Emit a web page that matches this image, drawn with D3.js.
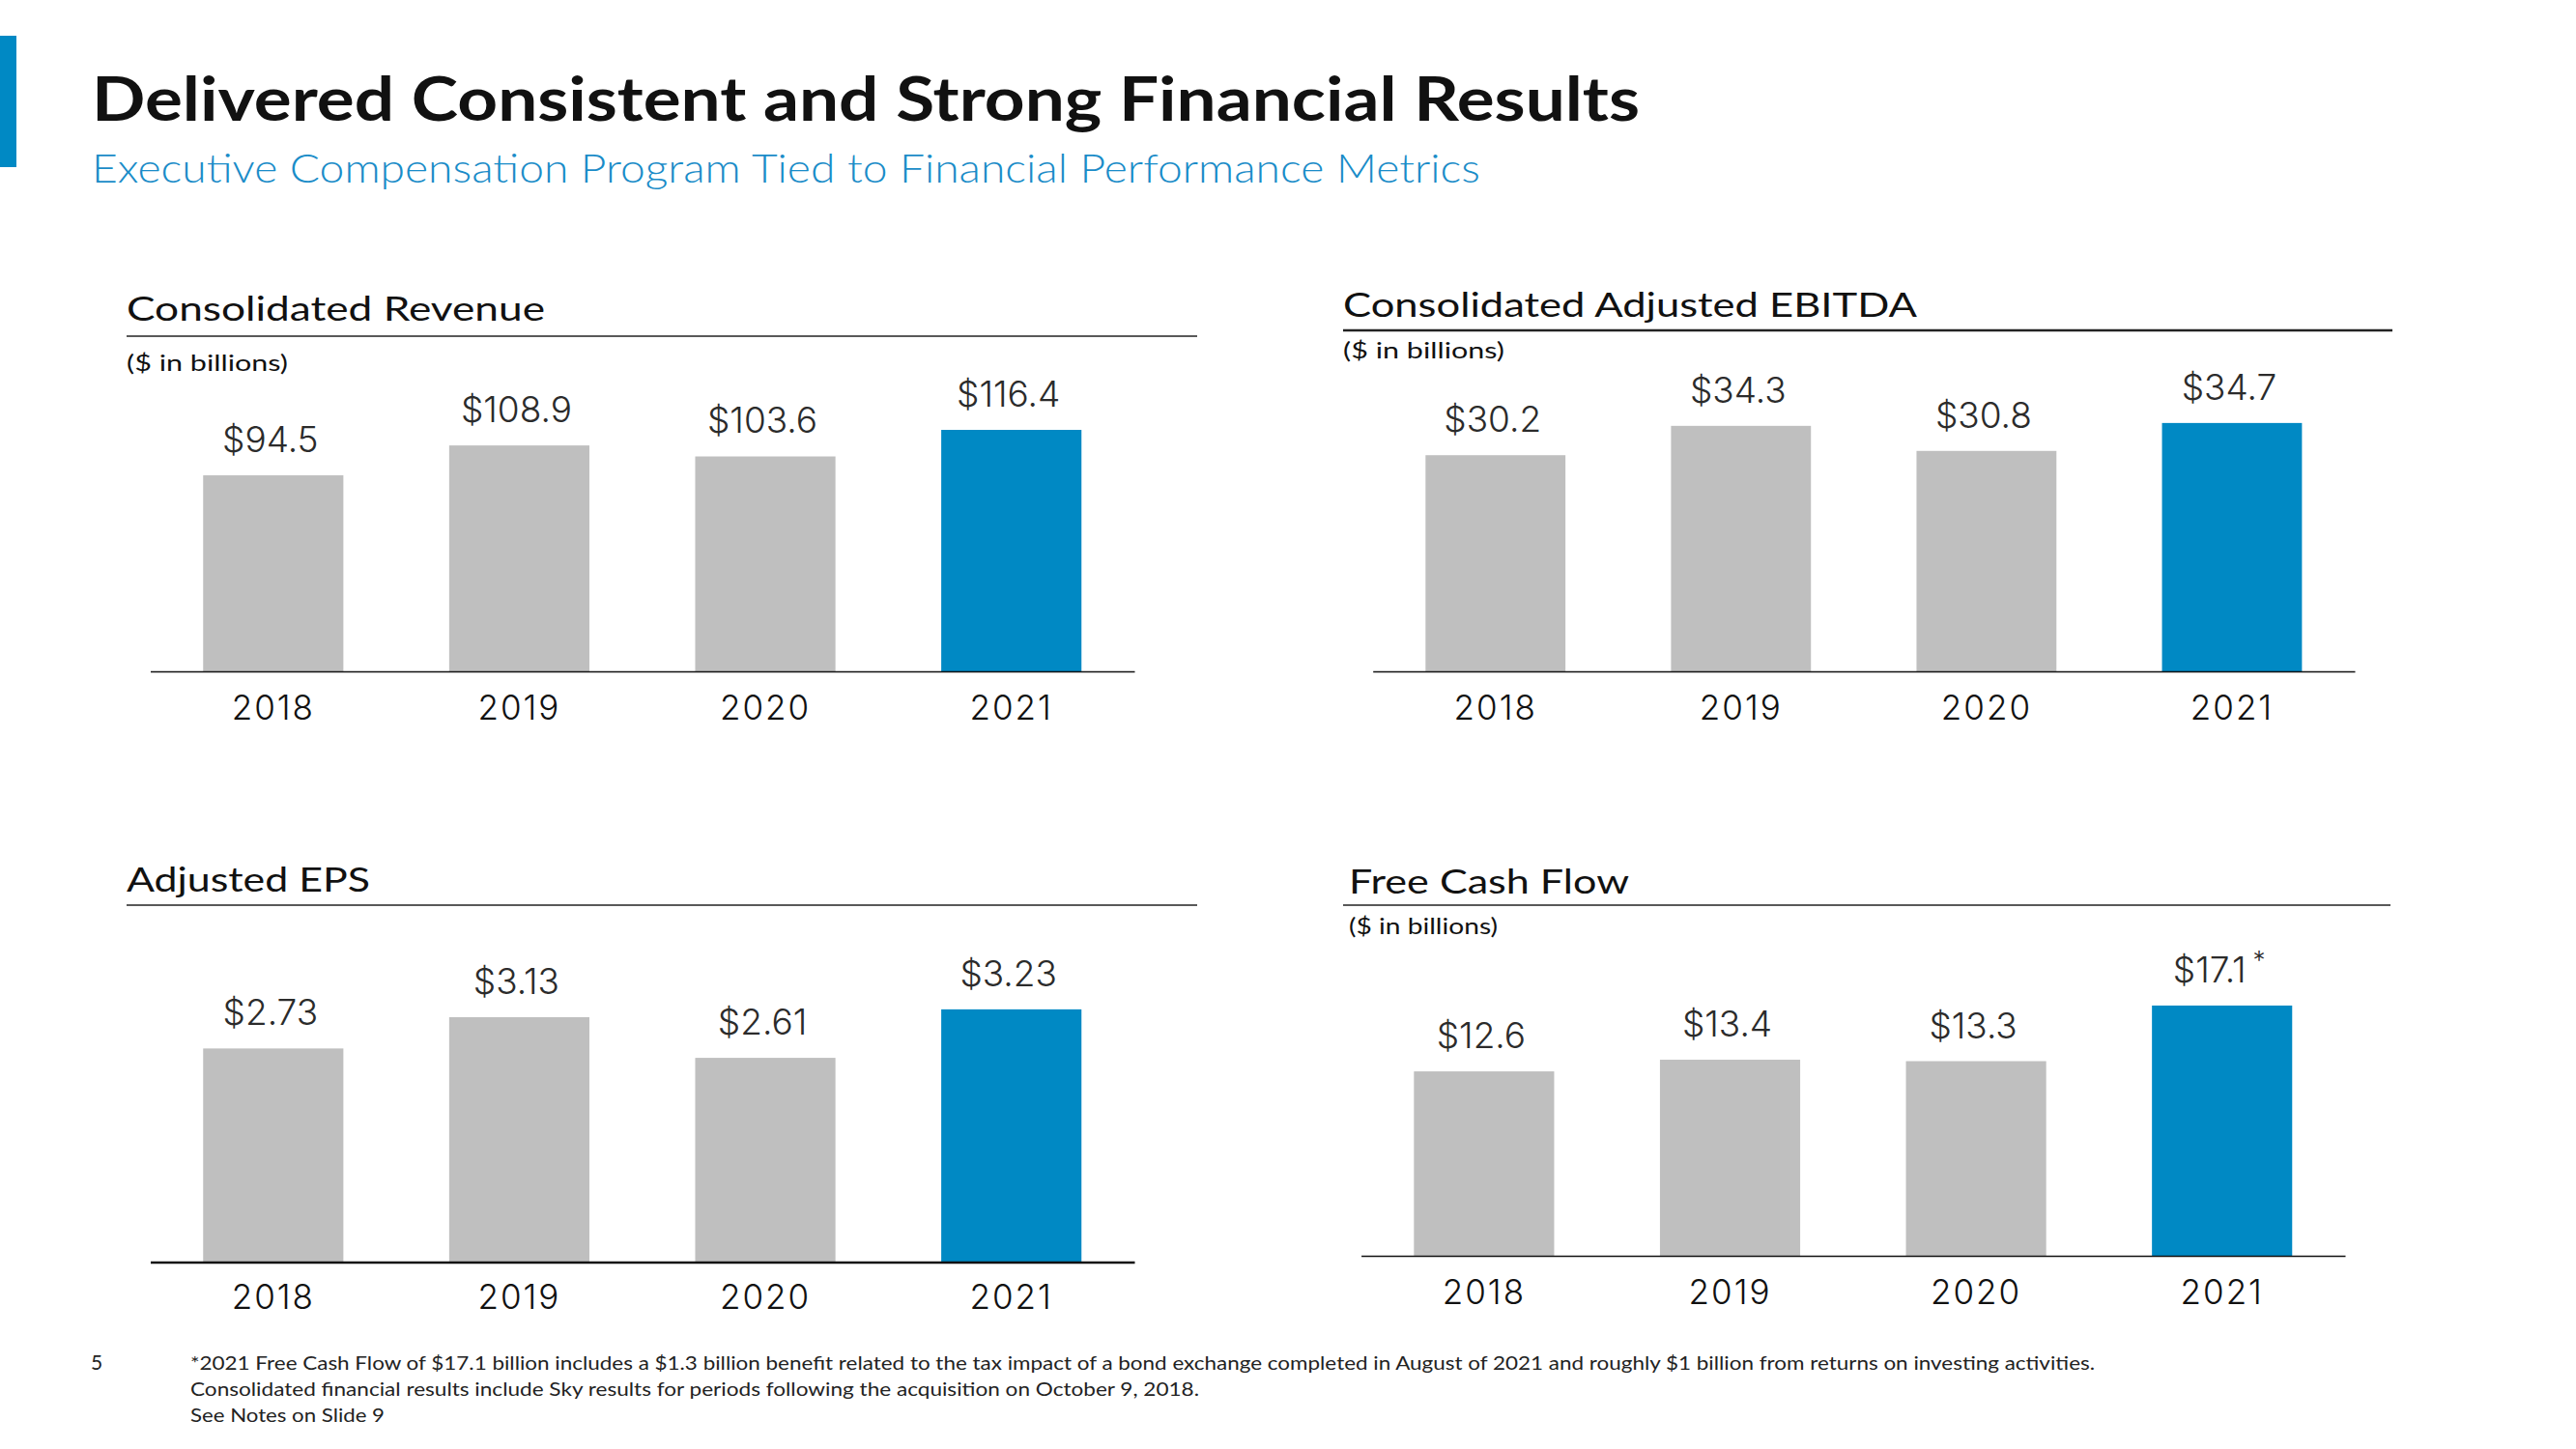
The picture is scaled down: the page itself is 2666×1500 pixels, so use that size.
<!DOCTYPE html>
<html>
<head>
<meta charset="utf-8">
<script src="https://cdn.jsdelivr.net/npm/d3@7"></script>
<style>
  html, body { margin: 0; padding: 0; background: #ffffff; }
  svg { display: block; }
</style>
</head>
<body>
<script>
// ---------------- DATA ----------------
const years = ["2018", "2019", "2020", "2021"];
const revenue = [94.5, 108.9, 103.6, 116.4];
const ebitda = [30.2, 34.3, 30.8, 34.7];
const eps = [2.73, 3.13, 2.61, 3.23];
const fcf = [12.6, 13.4, 13.3, 17.1];
const fcfMarks = ["", "", "", "*"];
const highlightYear = "2021";

const titleText = "Delivered Consistent and Strong Financial Results";
const subtitleText = "Executive Compensation Program Tied to Financial Performance Metrics";
const panelTitles = ["Consolidated Revenue", "Consolidated Adjusted EBITDA", "Adjusted EPS", "Free Cash Flow"];
const unitNote = "($ in billions)";
const footnotes = [
  "*2021 Free Cash Flow of $17.1 billion includes a $1.3 billion benefit related to the tax impact of a bond exchange completed in August of 2021 and roughly $1 billion from returns on investing activities.",
  "Consolidated financial results include Sky results for periods following the acquisition on October 9, 2018.",
  "See Notes on Slide 9"
];
const pageNumber = "5";

// ---------------- STYLE / LAYOUT ----------------
const W = 2666, H = 1500;
const BLUE = "#0089C4";
const GRAY = "#BFBFBF";
const TITLE_FONT = "Lato, 'Noto Sans', sans-serif";
const NUM_FONT = "Inter, Roboto, sans-serif";

const panels = [
  { title: panelTitles[0], values: revenue, marks: null, decimals: 1, unit: true,
    x0: 155.5, x1: 1174, axisY: 695, yMax: 130, plotH: 279.2,
    tx: 131, ty: 332, tw: 433, ruleX0: 131, ruleX1: 1239, ruleY: 348, ruleW: 1.5,
    ux: 131, uy: 384, uw: 167, axisW: 1.6, yearDy: 50 },
  { title: panelTitles[1], values: ebitda, marks: null, decimals: 1, unit: true,
    x0: 1420.7, x1: 2437, axisY: 695, yMax: 40, plotH: 296.4,
    tx: 1390, ty: 328, tw: 594, ruleX0: 1390, ruleX1: 2476, ruleY: 342, ruleW: 2.5,
    ux: 1390, uy: 371, uw: 167, axisW: 1.6, yearDy: 50 },
  { title: panelTitles[2], values: eps, marks: null, decimals: 2, unit: false,
    x0: 155.5, x1: 1174, axisY: 1306.5, yMax: 3.5, plotH: 283.5,
    tx: 131, ty: 923, tw: 252, ruleX0: 131, ruleX1: 1239, ruleY: 937, ruleW: 1.5,
    ux: 0, uy: 0, uw: 0, axisW: 2.6, yearDy: 48 },
  { title: panelTitles[3], values: fcf, marks: fcfMarks, decimals: 1, unit: true,
    x0: 1408.6, x1: 2427, axisY: 1300, yMax: 20, plotH: 303,
    tx: 1396, ty: 925, tw: 290, ruleX0: 1390, ruleX1: 2474, ruleY: 937, ruleW: 1.5,
    ux: 1396, uy: 967, uw: 154, axisW: 1.6, yearDy: 50 }
];

const svg = d3.select("body").append("svg")
  .attr("width", W).attr("height", H)
  .attr("viewBox", `0 0 ${W} ${H}`);

svg.append("rect").attr("width", W).attr("height", H).attr("fill", "#ffffff");

// left accent bar
svg.append("rect").attr("x", 0).attr("y", 37).attr("width", 17).attr("height", 136).attr("fill", BLUE);

// titles
svg.append("text")
  .attr("x", 95).attr("y", 125)
  .attr("font-family", TITLE_FONT).attr("font-weight", 700)
  .attr("font-size", 63).attr("fill", "#111111")
  .attr("textLength", 1602).attr("lengthAdjust", "spacingAndGlyphs")
  .text(titleText);

svg.append("text")
  .attr("x", 95).attr("y", 189)
  .attr("font-family", TITLE_FONT).attr("font-weight", 300)
  .attr("font-size", 41).attr("fill", "#1A8CC8")
  .attr("textLength", 1437).attr("lengthAdjust", "spacingAndGlyphs")
  .text(subtitleText);

// panels
panels.forEach(p => {
  const g = svg.append("g");

  g.append("text")
    .attr("x", p.tx).attr("y", p.ty)
    .attr("font-family", TITLE_FONT).attr("font-size", 35)
    .attr("fill", "#111111")
    .attr("textLength", p.tw).attr("lengthAdjust", "spacingAndGlyphs")
    .text(p.title);

  g.append("line")
    .attr("x1", p.ruleX0).attr("x2", p.ruleX1)
    .attr("y1", p.ruleY).attr("y2", p.ruleY)
    .attr("stroke", "#222222").attr("stroke-width", p.ruleW);

  if (p.unit) {
    g.append("text")
      .attr("x", p.ux).attr("y", p.uy)
      .attr("font-family", TITLE_FONT).attr("font-size", 24)
      .attr("fill", "#111111")
      .attr("textLength", p.uw).attr("lengthAdjust", "spacingAndGlyphs")
      .text(unitNote);
  }

  const x = d3.scaleBand().domain(years).range([p.x0, p.x1])
    .paddingInner(0.43).paddingOuter(0.215);
  const y = d3.scaleLinear().domain([0, p.yMax]).range([p.axisY, p.axisY - p.plotH]);

  const rows = years.map((yr, i) => ({ year: yr, value: p.values[i], mark: p.marks ? p.marks[i] : "" }));

  g.selectAll("rect.bar").data(rows).enter().append("rect")
    .attr("class", "bar")
    .attr("x", d => x(d.year))
    .attr("width", x.bandwidth())
    .attr("y", d => y(d.value))
    .attr("height", d => y(0) - y(d.value))
    .attr("fill", d => d.year === highlightYear ? BLUE : GRAY);

  const lbl = g.selectAll("text.val").data(rows).enter().append("text")
    .attr("class", "val")
    .attr("x", d => x(d.year) + x.bandwidth() / 2 - 3)
    .attr("y", d => y(d.value) - 24)
    .attr("text-anchor", "middle")
    .attr("font-family", NUM_FONT).attr("font-weight", 300)
    .attr("font-size", 37).attr("fill", "#2b2b2b");
  lbl.append("tspan").text(d => "$" + d.value.toFixed(p.decimals));
  lbl.filter(d => d.mark).append("tspan")
    .attr("dx", 7).attr("dy", -14).attr("font-size", 26)
    .text(d => d.mark);

  const axis = d3.axisBottom(x).tickSize(0).tickSizeOuter(0);
  const ag = g.append("g").attr("transform", `translate(0,${p.axisY})`).call(axis);
  ag.select(".domain").attr("stroke", "#111111").attr("stroke-width", p.axisW);
  ag.selectAll(".tick text")
    .attr("y", p.yearDy).attr("dy", 0)
    .attr("font-family", NUM_FONT).attr("font-weight", 300)
    .attr("font-size", 35).attr("letter-spacing", 2)
    .attr("fill", "#111111");
});

// footer
svg.append("text")
  .attr("x", 94).attr("y", 1418)
  .attr("font-family", TITLE_FONT).attr("font-size", 21).attr("fill", "#222222")
  .text(pageNumber);

const footLens = [1971, 1044, 201];
svg.selectAll("text.foot").data(footnotes).enter().append("text")
  .attr("class", "foot")
  .attr("x", 197)
  .attr("y", (d, i) => 1418 + i * 27)
  .attr("font-family", TITLE_FONT).attr("font-size", 19).attr("fill", "#222222")
  .attr("textLength", (d, i) => footLens[i]).attr("lengthAdjust", "spacingAndGlyphs")
  .text(d => d);
</script>
</body>
</html>
